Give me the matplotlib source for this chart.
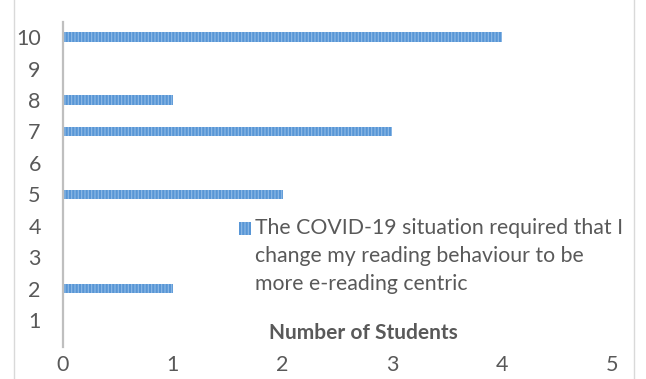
import matplotlib
matplotlib.use('Agg')
import matplotlib.pyplot as plt
from matplotlib.patches import Rectangle
from matplotlib.lines import Line2D

# datos
categorias = [1, 2, 3, 4, 5, 6, 7, 8, 9, 10]
estudiantes = [0, 1, 0, 0, 2, 0, 3, 1, 0, 4]
ticks_x = [0, 1, 2, 3, 4, 5]
serie = "The COVID-19 situation required that I\nchange my reading behaviour to be\nmore e-reading centric"
eje_x = "Number of Students"

plt.rcParams['font.family'] = ['Lato', 'DejaVu Sans']
plt.rcParams['hatch.linewidth'] = 0.8
gris = '#595959'
azul = '#5896D6'
raya = '#8FBBE6'

W, H = 646, 379
fig = plt.figure(figsize=(W / 100, H / 100), dpi=100)
ax = fig.add_axes([63 / W, (H - 347) / H, (612 - 63) / W, (347 - 22) / H])

ax.barh(categorias, estudiantes, height=0.3, color=azul, edgecolor=raya,
        linewidth=0, hatch='|||||')
ax.set_xlim(0, 5)
ax.set_ylim(0.14, 10.48)
ax.set_yticks(categorias)
ax.set_xticks(ticks_x)
ax.tick_params(length=0, labelsize=15.5, labelcolor=gris)
ax.tick_params(axis='y', pad=16)
ax.tick_params(axis='x', pad=6)
for s in ['top', 'right', 'bottom']:
    ax.spines[s].set_visible(False)
ax.spines['left'].set_color('#BFBFBF')
ax.spines['left'].set_linewidth(1.6)

fig.text(363 / W, 1 - 333 / H, eje_x, ha='center', va='center',
         fontsize=15, fontweight='bold', color=gris)

# leyenda manual
fig.patches.append(Rectangle((239 / W, 1 - 235 / H), 12 / W, 13 / H,
                             transform=fig.transFigure, facecolor=azul,
                             edgecolor=raya, linewidth=0, hatch='|||||'))
fig.text(255 / W, 1 - 218 / H, serie, ha='left', va='top', fontsize=15.3,
         color=gris, linespacing=1.5)

# bordes del area del grafico
fig.add_artist(Line2D([14 / W, 14 / W], [0, 1], transform=fig.transFigure,
                      color='#D9D9D9', linewidth=1))
fig.add_artist(Line2D([634 / W, 634 / W], [0, 1], transform=fig.transFigure,
                      color='#D9D9D9', linewidth=1))

fig.savefig('out.png', dpi=100, facecolor='white')
